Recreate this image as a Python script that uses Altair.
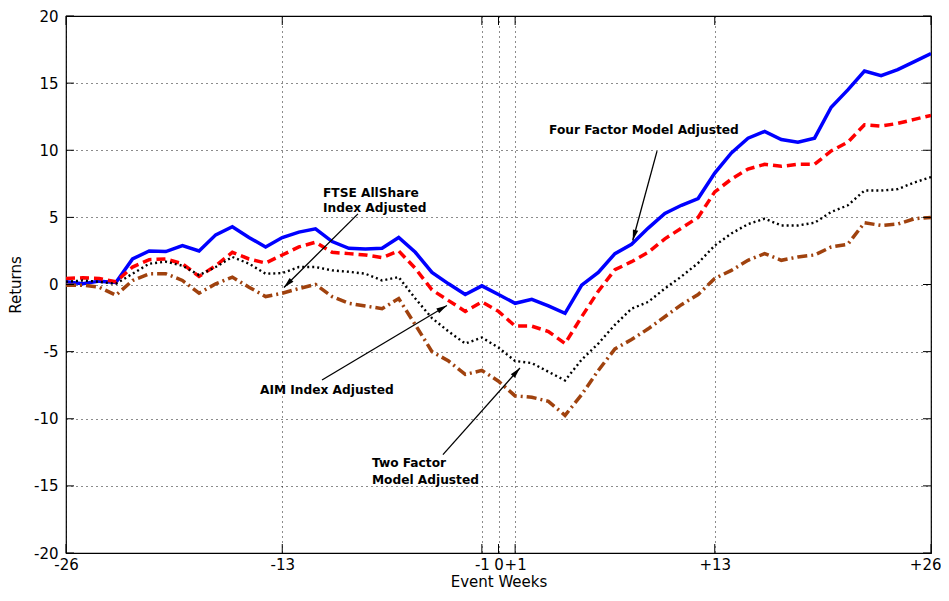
import math
import altair as alt
import pandas as pd

# event weeks -26 .. +26
weeks = list(range(-26, 27))

four_factor = [0.2, 0.05, 0.25, 0.15, 1.9, 2.5, 2.45, 2.9, 2.5, 3.7,
               4.3, 3.5, 2.8, 3.5, 3.9, 4.15, 3.2, 2.7, 2.65, 2.7,
               3.5, 2.4, 0.9, 0.05, -0.75, -0.1, -0.75, -1.4, -1.1, -1.6,
               -2.15, -0.05, 0.9, 2.3, 3.0, 4.2, 5.3, 5.9, 6.4, 8.3,
               9.8, 10.9, 11.4, 10.8, 10.6, 10.9, 13.2, 14.5, 15.9, 15.55,
               16.0, 16.6, 17.2]
aim_index = [0.45, 0.5, 0.45, 0.2, 1.3, 1.85, 1.9, 1.55, 0.6, 1.4,
             2.4, 1.9, 1.6, 2.2, 2.8, 3.15, 2.4, 2.3, 2.2, 2.0,
             2.5, 1.2, -0.4, -1.2, -2.0, -1.3, -2.0, -3.1, -3.1, -3.5,
             -4.4, -2.4, -0.5, 1.1, 1.7, 2.4, 3.4, 4.2, 5.0, 6.9,
             7.85, 8.6, 8.95, 8.8, 8.95, 8.95, 9.95, 10.6, 11.9, 11.8,
             12.0, 12.3, 12.6]
two_factor = [0.2, 0.3, 0.2, 0.05, 0.8, 1.55, 1.7, 1.4, 0.7, 1.3,
              2.05, 1.55, 0.8, 0.85, 1.3, 1.3, 1.05, 0.95, 0.8, 0.3,
              0.55, -1.05, -2.5, -3.5, -4.4, -3.95, -4.7, -5.7, -5.85, -6.5,
              -7.15, -5.6, -4.4, -3.0, -1.8, -1.3, -0.3, 0.6, 1.6, 2.9,
              3.8, 4.5, 4.9, 4.4, 4.4, 4.6, 5.4, 5.9, 7.0, 7.0,
              7.1, 7.6, 8.0]
ftse_index = [-0.05, -0.05, -0.2, -0.8, 0.3, 0.8, 0.8, 0.3, -0.65, 0.05,
              0.55, -0.2, -0.9, -0.65, -0.3, 0.0, -0.9, -1.4, -1.6, -1.8,
              -1.05, -3.0, -5.0, -5.7, -6.7, -6.4, -7.2, -8.3, -8.4, -8.7,
              -9.75, -8.2, -6.4, -4.8, -4.1, -3.3, -2.4, -1.5, -0.75, 0.45,
              1.05, 1.8, 2.3, 1.8, 2.05, 2.2, 2.8, 3.0, 4.6, 4.4,
              4.5, 4.9, 5.0]

x_ticks = [-26, -13, -1, 0, 1, 13, 26]
y_ticks = [-20, -15, -10, -5, 0, 5, 10, 15, 20]

# annotations (left-aligned text, baseline at y)
note_text = ["Four Factor Model Adjusted", "FTSE AllShare", "Index Adjusted",
             "AIM Index Adjusted", "Two Factor", "Model Adjusted"]
note_x = [3.04, -10.55, -10.55, -14.34, -7.61, -7.61]
note_y = [11.2, 6.52, 5.41, -8.15, -13.63, -14.89]

# arrows: start -> tip
arrow_x1 = [9.53, -8.45, -10.61, -3.34]
arrow_y1 = [9.93, 5.26, -7.11, -12.67]
arrow_x2 = [8.07, -12.9, -3.1, 1.29]
arrow_y2 = [3.28, -0.22, -1.56, -6.22]

W, H = 865, 537
FONT = "DejaVu Sans"

series = [
    ("Four Factor", four_factor, "#0000ff", 3.5, []),
    ("AIM", aim_index, "#ff0000", 3.5, [9, 5]),
    ("Two Factor", two_factor, "#000000", 2.4, [2, 3]),
    ("FTSE", ftse_index, "#a0420e", 3.5, [10, 4, 2, 4]),
]

xs = alt.Scale(domain=[-26, 26], nice=False, zero=False)
ys = alt.Scale(domain=[-20, 20], nice=False, zero=False)

x_label = "datum.value > 0 ? '+' + datum.value : '' + datum.value"
y_label = "'' + datum.value"
grid_style = dict(grid=True, gridDash=[1, 4], gridColor="#000000",
                  gridWidth=1, gridOpacity=0.9, ticks=False, domain=False)

grid = alt.Chart(pd.DataFrame({"x": [0]})).mark_point(opacity=0).encode(
    x=alt.X("x:Q", scale=xs, title="Event Weeks",
            axis=alt.Axis(values=x_ticks, labelExpr=x_label,
                          labelFlush=False, labelOverlap=False,
                          labelAlign={"expr": "datum.value == 26 ? 'right' : 'center'"},
                          labelOffset={"expr": "datum.value == 26 ? 10 : 0"},
                          labelPadding=4, titlePadding=2, **grid_style)),
    y=alt.Y("x:Q", scale=ys, title="Returns",
            axis=alt.Axis(values=y_ticks, labelExpr=y_label,
                          labelPadding=8, titlePadding=10, **grid_style)),
)

layers = [grid]
for name, vals, color, width, dash in series:
    df = pd.DataFrame({"week": weeks, "ret": vals})
    mk = dict(color=color, strokeWidth=width, clip=True)
    if dash:
        mk["strokeDash"] = dash
    layers.append(alt.Chart(df).mark_line(**mk).encode(
        x=alt.X("week:Q", scale=xs), y=alt.Y("ret:Q", scale=ys)))

# inward tick marks on all four sides
xt = pd.DataFrame({"t": x_ticks})
yt = pd.DataFrame({"t": y_ticks})
tick = dict(color="#000000", strokeWidth=1)
layers += [
    alt.Chart(xt).mark_rule(**tick).encode(
        x=alt.X("t:Q", scale=xs), y=alt.value(H), y2=alt.value(H - 9)),
    alt.Chart(xt).mark_rule(**tick).encode(
        x=alt.X("t:Q", scale=xs), y=alt.value(0), y2=alt.value(9)),
    alt.Chart(yt).mark_rule(**tick).encode(
        y=alt.Y("t:Q", scale=ys), x=alt.value(0), x2=alt.value(8)),
    alt.Chart(yt).mark_rule(**tick).encode(
        y=alt.Y("t:Q", scale=ys), x=alt.value(W), x2=alt.value(W - 8)),
]

arrows = pd.DataFrame({"x1": arrow_x1, "y1": arrow_y1,
                       "x2": arrow_x2, "y2": arrow_y2})
arrows["ang"] = [
    math.degrees(math.atan2((b - a) * W / 52, (d - c) * H / 40)) % 360
    for a, b, c, d in zip(arrow_x1, arrow_x2, arrow_y1, arrow_y2)
]
layers.append(alt.Chart(arrows).mark_rule(color="#000000", strokeWidth=1.3).encode(
    x=alt.X("x1:Q", scale=xs), y=alt.Y("y1:Q", scale=ys),
    x2="x2:Q", y2="y2:Q"))
layers.append(alt.Chart(arrows).mark_point(
    shape="M0,0L-0.28,1.1L0.28,1.1Z", filled=True, color="#000000",
    opacity=1, size=380).encode(
    x=alt.X("x2:Q", scale=xs), y=alt.Y("y2:Q", scale=ys),
    angle=alt.Angle("ang:Q", scale=None)))

notes = pd.DataFrame({"text": note_text, "x": note_x, "y": note_y})
layers.append(alt.Chart(notes).mark_text(
    align="left", baseline="alphabetic", font=FONT, fontSize=12.2,
    fontWeight="bold", color="#000000").encode(
    x=alt.X("x:Q", scale=xs), y=alt.Y("y:Q", scale=ys), text="text:N"))

chart = alt.layer(*layers).properties(
    width=W, height=H,
    padding={"left": 58, "top": 8, "right": 10, "bottom": 36},
    autosize=alt.AutoSizeParams(type="none"),
).configure_view(stroke="#000000", strokeWidth=1.2).configure_axis(
    labelFont=FONT, labelFontSize=15, labelColor="#000000",
    titleFont=FONT, titleFontSize=15, titleFontWeight="normal",
    titleColor="#000000",
)

chart.save("out.html", embed_options={"renderer": "svg", "actions": False})
